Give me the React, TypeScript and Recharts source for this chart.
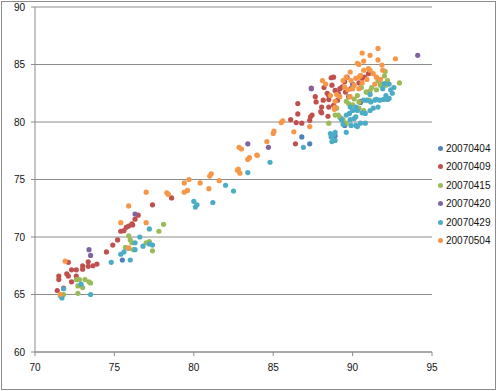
import React from 'react';
import { ScatterChart, Scatter, XAxis, YAxis, CartesianGrid } from 'recharts';

type Pt = [number, number];

const seriesNames = ['20070404', '20070409', '20070415', '20070420', '20070429', '20070504'];
const seriesColors = ['#4F81BD', '#C0504D', '#9BBB59', '#8064A2', '#4BACC6', '#F79646'];

const xTicks = [70, 75, 80, 85, 90, 95];
const yTicks = [60, 65, 70, 75, 80, 85, 90];

const s20070404: Pt[] = [
  [86.8, 78.7], [87.3, 78.1], [89.5, 79.7], [88.9, 78.8], [75.5, 68.0], [90.5, 81.7], [89.3, 80.3],
];

const s20070409: Pt[] = [
  [77.4, 72.8], [76.5, 71.9], [76.3, 71.55], [76.1, 71.15], [75.9, 70.95], [75.75, 70.85], [76.15, 71.05],
  [75.6, 70.55], [75.4, 70.5], [75.2, 69.75], [74.9, 69.3], [74.5, 68.7], [73.35, 67.85], [73.0, 67.5],
  [73.35, 67.45], [73.65, 67.5], [73.9, 67.65], [73.0, 67.2], [72.6, 67.15], [72.3, 67.15], [72.0, 66.8],
  [72.1, 66.6], [72.6, 66.6], [72.3, 66.1], [71.5, 66.6], [71.5, 66.3], [71.4, 65.35], [71.8, 65.55],
  [72.1, 67.8], [78.6, 73.4],
  [86.4, 78.1], [86.55, 80.7], [86.1, 80.2], [86.45, 79.95], [86.8, 79.9], [87.35, 80.45], [87.45, 80.6],
  [87.3, 80.15], [88.05, 80.8], [88.45, 80.5], [87.65, 82.2], [87.7, 81.75], [88.15, 81.9], [88.5, 82.3],
  [88.65, 83.85], [88.5, 81.95], [88.5, 81.3], [88.8, 81.45], [89.05, 81.9], [89.1, 82.5], [89.35, 83.05],
  [89.55, 82.6], [89.75, 82.2], [89.65, 83.9], [89.5, 83.5], [88.9, 82.75], [88.7, 83.2], [88.4, 82.5],
  [88.05, 81.3], [88.0, 80.9], [91.0, 84.2], [90.75, 83.9], [90.4, 83.4], [90.6, 83.8],
  [90.5, 81.8], [88.8, 83.9], [86.55, 81.6], [89.2, 82.9], [89.9, 82.9], [88.2, 83.0], [87.4, 82.95],
];

const s20070415: Pt[] = [
  [92.05, 84.4], [92.2, 83.6], [92.95, 83.4], [91.75, 83.2], [91.5, 82.8], [90.9, 82.6], [91.1, 82.7],
  [90.3, 82.3], [89.75, 81.6], [89.6, 81.8], [90.0, 81.5], [90.4, 81.75], [90.7, 81.0], [90.4, 81.2],
  [89.0, 81.2], [89.1, 80.6], [88.9, 80.6], [89.2, 80.4], [89.4, 80.2], [89.6, 79.9], [88.5, 79.9],
  [91.05, 81.9], [91.6, 83.6], [92.0, 84.0], [90.1, 82.0], [91.2, 83.0], [89.8, 82.2], [90.55, 83.0],
  [92.1, 83.2], [91.75, 83.35], [90.85, 82.6],
  [78.1, 71.1], [77.8, 70.5], [77.0, 69.5], [77.4, 68.8], [75.9, 70.1], [76.0, 69.75], [76.1, 69.5],
  [76.2, 68.9], [75.7, 69.1], [73.15, 66.3], [73.4, 66.1], [73.5, 66.0], [72.6, 66.3], [72.8, 66.3],
  [72.7, 65.75], [73.0, 65.6], [72.7, 65.1], [71.8, 65.0], [77.2, 69.6],
];

const s20070420: Pt[] = [
  [94.1, 85.8], [87.4, 82.9], [84.7, 77.8], [83.4, 78.1], [76.3, 72.0], [73.4, 68.9], [73.5, 68.4], [90.0, 83.3],
];

const s20070429: Pt[] = [
  [80.0, 73.1], [80.2, 72.8], [80.1, 72.6], [81.2, 73.0], [77.2, 70.7], [76.6, 70.0], [76.3, 69.5],
  [76.8, 69.2], [77.2, 69.4], [77.4, 69.3], [75.4, 68.5], [75.6, 68.7], [75.9, 69.0], [76.0, 68.0],
  [76.3, 68.9], [74.8, 67.8], [73.5, 65.0], [72.9, 65.9], [71.8, 65.5], [71.7, 64.7], [71.6, 64.9],
  [83.4, 75.6], [82.0, 74.5], [82.5, 74.0], [84.8, 76.5], [86.9, 77.8], [88.6, 79.0], [88.8, 78.9],
  [88.7, 78.3], [88.9, 78.4], [88.65, 78.7], [88.9, 79.1], [89.6, 79.1],
  [92.0, 83.35], [92.6, 83.0], [92.5, 82.5], [92.3, 82.05], [92.2, 81.96], [91.95, 81.96], [91.7, 81.9],
  [91.5, 81.96], [91.4, 81.9], [91.15, 81.75], [90.9, 81.9], [92.1, 82.3], [92.4, 82.8], [91.6, 81.3],
  [91.3, 81.2], [91.1, 81.0], [90.8, 80.75], [90.6, 80.8], [90.3, 81.0], [90.2, 81.3], [90.0, 81.0],
  [89.8, 80.75], [90.1, 80.3], [89.85, 80.2], [90.2, 80.45], [90.5, 79.9], [90.8, 79.9], [90.2, 79.7],
  [90.7, 81.9], [91.1, 82.4], [89.85, 81.3], [89.6, 80.6], [89.3, 80.2], [89.4, 79.8], [89.9, 79.7],
  [90.3, 79.6], [91.9, 82.9], [92.3, 83.3],
];

const s20070504: Pt[] = [
  [71.6, 65.0], [71.9, 67.9], [75.9, 69.05], [77.0, 71.25], [75.4, 71.25], [75.9, 72.7],
  [77.0, 73.9], [78.3, 73.85], [78.4, 73.7], [79.4, 74.7], [79.7, 75.0], [80.4, 74.7], [79.4, 73.9],
  [79.6, 74.05], [81.0, 75.3], [81.1, 75.5], [80.95, 74.2], [81.6, 74.9], [82.85, 77.8], [83.0, 77.65],
  [82.75, 75.8], [82.9, 75.55], [83.4, 76.75], [83.5, 76.9], [84.0, 77.1], [84.6, 78.3], [85.0, 79.0],
  [85.05, 79.2], [85.5, 79.95], [85.6, 80.1], [86.3, 79.15], [87.3, 79.6], [88.9, 81.3], [82.8, 75.9],
  [83.97, 77.13],
  [90.6, 86.0], [91.1, 85.8], [91.6, 86.4], [92.7, 85.5], [90.4, 85.0], [90.7, 85.3], [91.6, 85.4],
  [91.85, 84.95], [91.9, 84.5], [91.1, 84.5], [91.3, 84.2], [91.0, 84.65], [90.7, 84.5], [89.85, 84.35],
  [89.6, 83.9], [89.9, 83.6], [90.2, 83.8], [90.5, 84.05], [90.4, 83.9], [90.9, 83.7], [90.6, 83.4],
  [89.4, 83.6], [89.5, 83.05], [90.0, 82.9], [89.7, 82.8], [90.1, 83.2], [90.4, 82.9], [89.0, 82.4],
  [89.2, 82.2], [89.85, 82.2], [91.5, 83.9], [91.4, 83.3], [91.75, 83.7], [88.1, 83.6], [88.3, 83.3],
  [88.6, 82.3], [88.9, 81.8], [90.3, 85.1], [88.85, 81.1],
];

const allSeries: Pt[][] = [s20070404, s20070409, s20070415, s20070420, s20070429, s20070504];

const toData = (arr: Pt[]) => arr.map(([x, y]) => ({ x, y }));

const FONT = "'Liberation Sans', Arial, sans-serif";
const tickStyle = { fill: '#111', fontSize: 10, fontFamily: FONT };

export default function App() {
  return (
    <div style={{ position: 'absolute', left: 0, top: 0, width: 499, height: 391, background: '#fff' }}>
      <ScatterChart width={499} height={391} margin={{ top: 7, right: 67, bottom: 9, left: 0 }}>
        <CartesianGrid vertical={false} stroke="#8c8c8c" strokeWidth={1} />
        <XAxis
          type="number"
          dataKey="x"
          domain={[70, 95]}
          ticks={xTicks}
          interval={0}
          height={30}
          stroke="#8c8c8c"
          tickSize={4}
          tickMargin={8}
          tick={tickStyle}
          allowDataOverflow
        />
        <YAxis
          type="number"
          dataKey="y"
          domain={[60, 90]}
          ticks={yTicks}
          interval={0}
          width={35}
          stroke="#8c8c8c"
          tickSize={4}
          tickMargin={6}
          tick={tickStyle}
          allowDataOverflow
        />
        {allSeries.map((s, i) => (
          <Scatter
            key={seriesNames[i]}
            name={seriesNames[i]}
            data={toData(s)}
            fill={seriesColors[i]}
            isAnimationActive={false}
            shape={(p: any) => <circle cx={p.cx} cy={p.cy} r={2.6} fill={seriesColors[i]} />}
          />
        ))}
      </ScatterChart>
      <div style={{ position: 'absolute', left: 0, top: 0 }}>
        {seriesNames.map((n, i) => (
          <div
            key={n}
            style={{
              position: 'absolute',
              left: 437,
              top: 149 + i * 18.45 - 7,
              height: 14,
              lineHeight: '14px',
              whiteSpace: 'nowrap',
              fontFamily: FONT,
              fontSize: 10,
              color: '#111',
            }}
          >
            <span
              style={{
                display: 'inline-block',
                width: 5,
                height: 5,
                borderRadius: '50%',
                background: seriesColors[i],
                marginLeft: 1,
                marginRight: 3,
                verticalAlign: 'middle',
                position: 'relative',
                top: -1,
              }}
            />
            {n}
          </div>
        ))}
      </div>
      <div
        style={{
          position: 'absolute',
          left: 1,
          top: 1,
          width: 495,
          height: 389,
          boxSizing: 'border-box',
          border: '1px solid #8c8c8c',
          pointerEvents: 'none',
        }}
      />
    </div>
  );
}
